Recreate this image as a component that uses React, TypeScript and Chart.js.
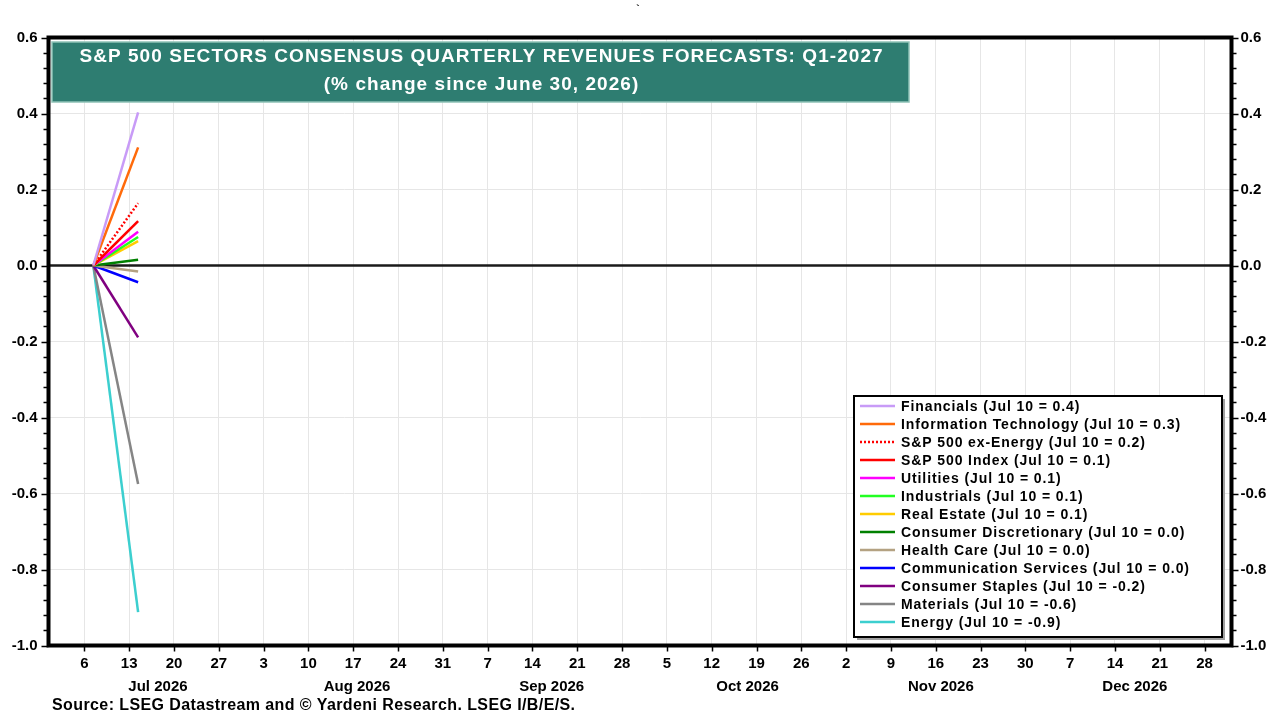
import React, { useEffect, useRef } from "react";
import { Chart, registerables } from "chart.js";

Chart.register(...registerables);

const FONT = "'Liberation Sans', Arial, sans-serif";

// x positions are days after Jun 30, 2026
const pointDays = [7.4, 14.4];

const seriesNames = [
  "Financials",
  "Information Technology",
  "S&P 500 ex-Energy",
  "S&P 500 Index",
  "Utilities",
  "Industrials",
  "Real Estate",
  "Consumer Discretionary",
  "Health Care",
  "Communication Services",
  "Consumer Staples",
  "Materials",
  "Energy",
];
const legendValues = ["0.4", "0.3", "0.2", "0.1", "0.1", "0.1", "0.1", "0.0", "0.0", "0.0", "-0.2", "-0.6", "-0.9"];
const seriesColors = [
  "#C89BF7",
  "#FF6A0A",
  "#FF0000",
  "#FF0000",
  "#FF00FF",
  "#22FF22",
  "#FFCC00",
  "#008000",
  "#B4A282",
  "#0000FF",
  "#800080",
  "#858585",
  "#3CCFCF",
];
const seriesDashed = [false, false, true, false, false, false, false, false, false, false, false, false, false];

const financials = [0, 0.403];
const infoTech = [0, 0.311];
const exEnergy = [0, 0.164];
const sp500 = [0, 0.117];
const utilities = [0, 0.089];
const industrials = [0, 0.075];
const realEstate = [0, 0.064];
const consDisc = [0, 0.015];
const healthCare = [0, -0.016];
const commServices = [0, -0.044];
const consStaples = [0, -0.189];
const materials = [0, -0.575];
const energy = [0, -0.912];

const seriesValues = [
  financials,
  infoTech,
  exEnergy,
  sp500,
  utilities,
  industrials,
  realEstate,
  consDisc,
  healthCare,
  commServices,
  consStaples,
  materials,
  energy,
];

const weekDays = [6, 13, 20, 27, 34, 41, 48, 55, 62, 69, 76, 83, 90, 97, 104, 111, 118, 125, 132, 139, 146, 153, 160, 167, 174, 181];
const weekLabels = ["6", "13", "20", "27", "3", "10", "17", "24", "31", "7", "14", "21", "28", "5", "12", "19", "26", "2", "9", "16", "23", "30", "7", "14", "21", "28"];
const monthDays = [17.5, 48.6, 79.0, 109.6, 139.8, 170.1];
const monthLabels = ["Jul 2026", "Aug 2026", "Sep 2026", "Oct 2026", "Nov 2026", "Dec 2026"];

const xMin = 0.4;
const xMax = 185.2;
const yMin = -1.0;
const yMax = 0.6;
const yStep = 0.2;
const yMinorPerMajor = 5;

const titleLines = ["S&P 500 SECTORS CONSENSUS QUARTERLY REVENUES FORECASTS: Q1-2027", "(% change since June 30, 2026)"];
const sourceText = "Source: LSEG Datastream and \u00A9 Yardeni Research. LSEG I/B/E/S.";

function fmtY(v: number) {
  const n = Number(v);
  if (Math.abs(n) < 1e-9) return "0.0";
  return n.toFixed(1);
}

function drawSpaced(ctx: any, text: string, x: number, y: number, spacing: number, align: "left" | "center") {
  ctx.textAlign = "left";
  if ("letterSpacing" in ctx) {
    ctx.letterSpacing = `${spacing}px`;
    const w = ctx.measureText(text).width - spacing;
    const sx = align === "center" ? x - w / 2 : x;
    ctx.fillText(text, sx, y);
    ctx.letterSpacing = "0px";
  } else {
    let w = 0;
    for (const ch of text) w += ctx.measureText(ch).width + spacing;
    w -= spacing;
    let cx = align === "center" ? x - w / 2 : x;
    for (const ch of text) {
      ctx.fillText(ch, cx, y);
      cx += ctx.measureText(ch).width + spacing;
    }
  }
}

const overlayPlugin = {
  id: "overlay",
  beforeDatasetsDraw(chart: any) {
    const { ctx, chartArea, scales } = chart;
    const y0 = scales.y.getPixelForValue(0);
    ctx.save();
    ctx.strokeStyle = "#1a1a1a";
    ctx.lineWidth = 2.5;
    ctx.beginPath();
    ctx.moveTo(chartArea.left, y0);
    ctx.lineTo(chartArea.right, y0);
    ctx.stroke();
    ctx.restore();
  },
  afterDatasetsDraw(chart: any) {
    const { ctx, chartArea, scales } = chart;
    const { left, right, top, bottom } = chartArea;
    ctx.save();

    // Title box
    const tx = 52, ty = 42, tw = 857, th = 60;
    ctx.fillStyle = "#2E7D71";
    ctx.fillRect(tx, ty, tw, th);
    ctx.strokeStyle = "#8FC2B7";
    ctx.lineWidth = 1.5;
    ctx.strokeRect(tx, ty, tw, th);
    ctx.fillStyle = "#FFFFFF";
    ctx.font = `bold 19px ${FONT}`;
    ctx.textBaseline = "middle";
    drawSpaced(ctx, titleLines[0], 481, 57, 1.05, "center");
    drawSpaced(ctx, titleLines[1], 481, 85, 1.05, "center");

    // Legend
    const lx = 854, ly = 396, lw = 368, lh = 241;
    ctx.fillStyle = "#A0A0A0";
    ctx.fillRect(lx + 3, ly + 3, lw, lh);
    ctx.fillStyle = "#FFFFFF";
    ctx.fillRect(lx, ly, lw, lh);
    ctx.strokeStyle = "#000000";
    ctx.lineWidth = 2;
    ctx.strokeRect(lx, ly, lw, lh);
    ctx.font = `bold 14px ${FONT}`;
    ctx.textBaseline = "middle";
    chart.data.datasets.forEach((ds: any, i: number) => {
      const yy = 406 + i * 18;
      ctx.beginPath();
      ctx.strokeStyle = ds.borderColor;
      ctx.lineWidth = 2.5;
      ctx.setLineDash(ds.borderDash && ds.borderDash.length ? [2, 2] : []);
      ctx.moveTo(860, yy);
      ctx.lineTo(895, yy);
      ctx.stroke();
      ctx.setLineDash([]);
      ctx.fillStyle = "#000000";
      drawSpaced(ctx, `${seriesNames[i]} (Jul 10 = ${legendValues[i]})`, 901, yy + 1, 0.9, "left");
    });

    // Frame
    ctx.strokeStyle = "#000000";
    ctx.lineWidth = 4;
    ctx.strokeRect(left, top, right - left, bottom - top);

    // Y ticks (major + minor) on both sides
    ctx.lineWidth = 1.5;
    const nMinor = Math.round((yMax - yMin) / yStep) * yMinorPerMajor;
    for (let i = 0; i <= nMinor; i++) {
      const v = yMin + (i * yStep) / yMinorPerMajor;
      const py = Math.round(scales.y.getPixelForValue(v)) + 0.5;
      const major = i % yMinorPerMajor === 0;
      const len = major ? 7 : 5;
      ctx.beginPath();
      ctx.moveTo(left, py);
      ctx.lineTo(left - len, py);
      ctx.moveTo(right, py);
      ctx.lineTo(right + len, py);
      ctx.stroke();
    }
    // X ticks
    weekDays.forEach((d) => {
      const px = Math.round(scales.x.getPixelForValue(d)) + 0.5;
      ctx.beginPath();
      ctx.moveTo(px, bottom);
      ctx.lineTo(px, bottom + 6);
      ctx.stroke();
    });

    // Month labels
    ctx.fillStyle = "#000000";
    ctx.font = `bold 15px ${FONT}`;
    ctx.textAlign = "center";
    ctx.textBaseline = "middle";
    monthDays.forEach((d, i) => {
      ctx.fillText(monthLabels[i], scales.x.getPixelForValue(d), 687);
    });

    // Source
    ctx.font = `bold 16px ${FONT}`;
    drawSpaced(ctx, sourceText, 52, 706, 0.4, "left");

    // stray mark at the top
    ctx.font = `bold 10px ${FONT}`;
    ctx.textAlign = "center";
    ctx.fillText("`", 638, 9);

    ctx.restore();
  },
};

export default function App() {
  const ref = useRef<HTMLCanvasElement | null>(null);

  useEffect(() => {
    if (!ref.current) return;
    const datasets = seriesValues.map((vals, i) => ({
      label: seriesNames[i],
      data: vals.map((v, j) => ({ x: pointDays[j], y: v })),
      borderColor: seriesColors[i],
      backgroundColor: seriesColors[i],
      borderWidth: 2.5,
      borderDash: seriesDashed[i] ? [2, 2] : [],
      pointRadius: 0,
      fill: false,
      tension: 0,
    }));

    const tickFont = { family: FONT, size: 15, weight: "bold" as const };

    const chart = new Chart(ref.current, {
      type: "line",
      data: { datasets },
      options: {
        animation: false,
        responsive: false,
        maintainAspectRatio: false,
        layout: { padding: { top: 37.5, left: 0, right: 0, bottom: 0 } },
        plugins: {
          legend: { display: false },
          title: { display: false },
          tooltip: { enabled: false },
        },
        scales: {
          x: {
            type: "linear",
            min: xMin,
            max: xMax,
            afterBuildTicks: (s: any) => {
              s.ticks = weekDays.map((v) => ({ value: v }));
            },
            ticks: {
              autoSkip: false,
              maxRotation: 0,
              minRotation: 0,
              padding: 9,
              color: "#000",
              font: tickFont,
              callback: (_v: any, idx: number) => weekLabels[idx],
            },
            grid: { color: "#E6E6E6", lineWidth: 1, drawTicks: false },
            border: { display: false },
            afterFit: (s: any) => {
              s.height = 74.5;
            },
          },
          y: {
            type: "linear",
            position: "left",
            min: yMin,
            max: yMax,
            ticks: {
              stepSize: yStep,
              padding: 11,
              color: "#000",
              font: tickFont,
              callback: (v: any) => fmtY(v),
            },
            grid: { color: "#E6E6E6", lineWidth: 1, drawTicks: false },
            border: { display: false },
            afterFit: (s: any) => {
              s.width = 48.5;
            },
          },
          y2: {
            type: "linear",
            position: "right",
            min: yMin,
            max: yMax,
            ticks: {
              stepSize: yStep,
              padding: 9,
              color: "#000",
              font: tickFont,
              callback: (v: any) => fmtY(v),
            },
            grid: { display: false, drawTicks: false },
            border: { display: false },
            afterFit: (s: any) => {
              s.width = 48.5;
            },
          },
        },
      },
      plugins: [overlayPlugin],
    });

    return () => chart.destroy();
  }, []);

  return (
    <div style={{ position: "fixed", left: 0, top: 0, width: 1280, height: 720, background: "#fff" }}>
      <canvas ref={ref} width={1280} height={720} style={{ display: "block" }} />
    </div>
  );
}
